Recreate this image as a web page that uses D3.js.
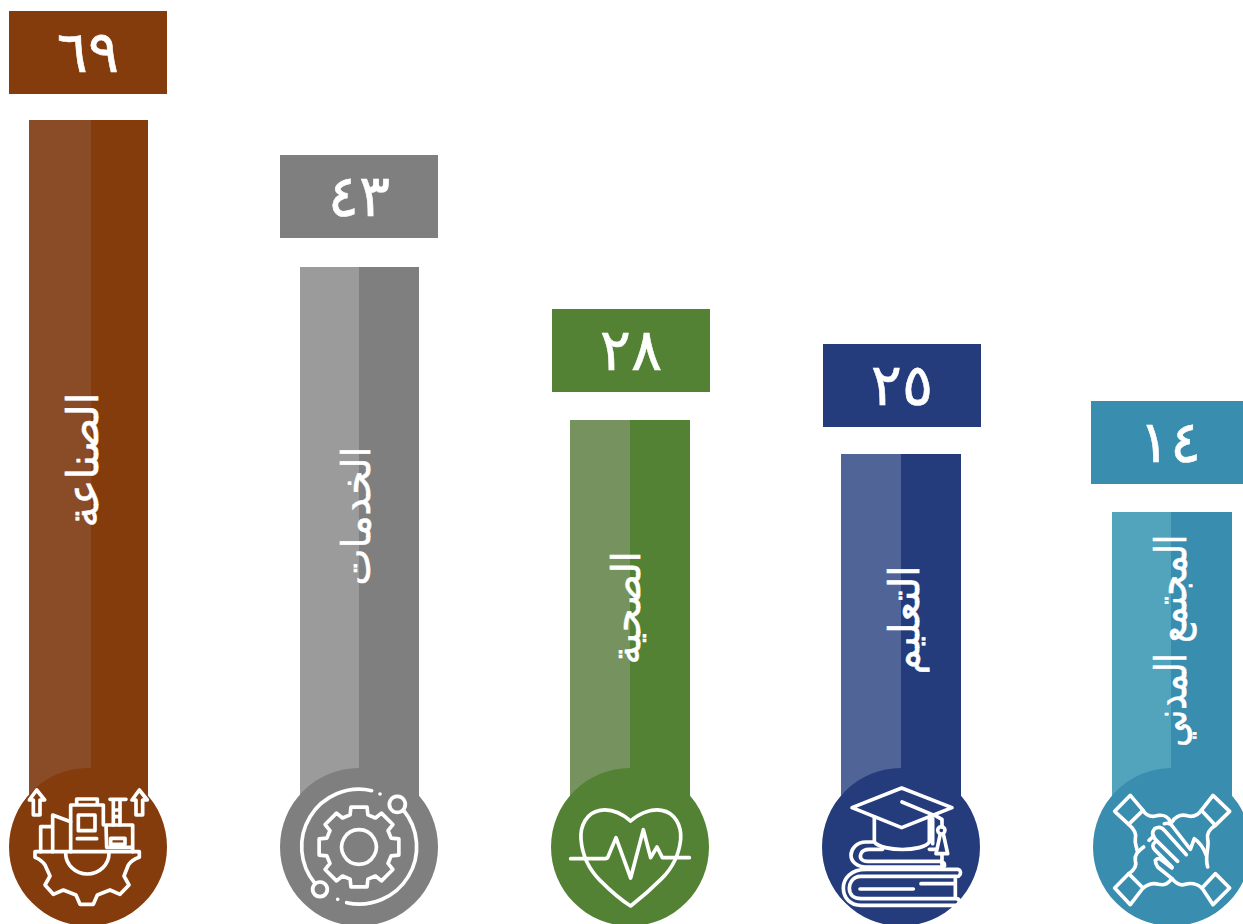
<!DOCTYPE html>
<html>
<head>
<meta charset="utf-8">
<script src="https://cdn.jsdelivr.net/npm/d3@7"></script>
<style>
  html, body { margin: 0; padding: 0; background: #fff; overflow: hidden; }
  text { font-family: "DejaVu Sans", "Noto Sans", sans-serif; fill: #fff; stroke: #fff; }
</style>
</head>
<body>
<div id="chart"></div>
<script>
var categories = ["الصناعة", "الخدمات", "الصحية", "التعليم", "المجتمع المدني"];
var values = [69, 43, 28, 25, 14];
var colors = ["#843c0c", "#7f7f7f", "#548235", "#243c7c", "#398dae"];
var lightColors = ["#8a4b27", "#9b9b9b", "#76935f", "#506498", "#52a3bc"];

var width = 1243, height = 924;
var baseY = 847, radius = 79, barW = 119, boxW = 158, boxH = 83;

// the bars in the picture are not proportional, so the scales go through each value
var sorted = values.slice().sort(d3.ascending);
var y = d3.scaleLinear().domain(sorted).range([512, 454, 420, 267, 120]);
var boxY = d3.scaleLinear().domain(sorted).range([401, 344, 309, 155, 11]);
var x = d3.scalePoint().domain(categories).range([88, 1172]);

// small hand nudges per column
var barShift = d3.scaleOrdinal(categories, [0, 0, 1, 1, 1]);
var boxShift = d3.scaleOrdinal(categories, [0, 0, 1, 1, -2]);
var splitShift = d3.scaleOrdinal(categories, [3, 0, 0, 0, -1]);
var labelMid = d3.scaleOrdinal(categories, [460, 516, 608, 620, 641]);
var labelX = d3.scaleOrdinal(categories, [-6, -3, -4, 3, -1]);
var labelSize = d3.scaleOrdinal(categories, [44, 40, 40, 42, 43]);
var labelLength = d3.scaleOrdinal(categories, [135, 139, 113, 109, 212]);

var arabic = d3.formatLocale({
  decimal: ".", thousands: ",", grouping: [3], currency: ["", ""],
  numerals: ["٠", "١", "٢", "٣", "٤", "٥", "٦", "٧", "٨", "٩"]
}).format("d");

var gearTeeth = d3.range(8).map(function(i) {
  var a = i * Math.PI / 4 - Math.PI / 2, s = 0.27, t = 0.2;
  var p = function(r, b) { return [(1077 + r * Math.cos(b)).toFixed(1), (261 + r * Math.sin(b)).toFixed(1)].join(" "); };
  return (i ? "L" : "M") + p(100, a - s) + "L" + p(122, a - t) + "L" + p(122, a + t) + "L" + p(100, a + s);
}).join("") + "Z";

var icons = [
  [264, 261, [
    "M110 90L88 120H100V165H120V120H134Z",
    "M418 90L396 120H408V165H428V120H442Z",
    "M105 275H418V292Q395 300 385 315L372 348L387 375L360 403L330 390L292 405L280 433H240L228 405L190 390L160 403L135 375L150 348L135 315Q125 300 105 292Z",
    "M197 280A65 62 0 0 0 327 280",
    "M122 275V200H158M158 275V165L212 185",
    "M212 275V135H310V195M230 135V117H292V135",
    "M235 165H285V212H235ZM232 236H290",
    "M318 195H398V262H320ZM398 262V275M332 235H375V253H332Z",
    "M330 118H378M340 118V195M360 118V195M340 150H360M340 170H360"
  ]],
  [1077, 261, [
    gearTeeth,
    "M1077 209A52 52 0 1 1 1076.9 209Z",
    "M1115 92A172 172 0 0 0 945 370",
    "M1040 428A172 172 0 0 0 1210 150",
    "M1192 109A24 24 0 1 1 1191.9 109Z",
    "M960 366A22 22 0 1 1 959.9 366Z",
    "M1140 102h.1M1013 418h.1"
  ]],
  [255, 255, [
    "M257 177C228 152 195 140 165 145C125 152 105 190 108 232C112 280 130 320 165 355C195 385 230 415 257 432C285 410 320 380 350 350C380 320 402 280 407 232C410 190 390 152 350 145C320 140 285 152 257 177Z",
    "M77 290H180Q188 290 190 282L213 227L257 348L295 203L317 287L336 255L352 287H433"
  ]],
  [255, 255, [
    "M108 137L257 78L408 137L257 197Z",
    "M258 120L362 163L378 172V195",
    "M376 194A11 11 0 1 1 375.9 194Z",
    "M372 220L360 275H395L383 220",
    "M175 165V240C200 270 320 270 340 240V165M350 170V245",
    "M170 240H150C120 240 105 262 105 280C105 300 125 315 150 315H378Q388 315 385 305Q380 298 370 298H155C135 298 130 287 135 275Q140 262 160 262H200M340 262H360M378 278V315",
    "M150 322H425Q437 325 432 338Q428 345 420 343H135C105 343 100 370 100 378C100 400 115 410 135 410H420Q430 410 430 420Q428 430 420 430H135C105 430 82 410 82 378C82 350 105 322 150 322M418 345V410",
    "M315 365H416M132 381H292"
  ]],
  [255, 255, [
    "M130 100L168 145L125 187L83 148Z",
    "M378 100L428 148L385 190L343 145Z",
    "M130 428L83 378L125 335L168 378Z",
    "M378 428L428 378L385 335L345 378Z",
    "M168 145C180 165 200 165 215 160C230 158 245 165 250 180",
    "M125 187C140 200 150 215 145 230C142 245 150 255 150 265",
    "M343 145C330 165 310 165 295 160C280 158 265 165 255 180",
    "M385 190C370 200 358 215 362 232C368 255 352 280 362 315",
    "M125 335C140 325 150 310 145 295C142 280 150 270 170 255",
    "M168 378C185 365 200 362 215 367C235 372 245 362 255 350C265 362 280 372 295 367C310 362 330 365 345 378",
    "M205 232Q190 215 203 200Q220 190 232 205L298 278",
    "M232 185Q250 180 258 195L310 262L322 230Q345 245 358 280",
    "M205 232L272 298M205 240Q190 250 205 265L255 315",
    "M205 295Q215 285 225 295L255 318M205 295Q205 305 212 315L255 350",
    "M186 235L200 222"
  ]]
];

var svg = d3.select("#chart").append("svg")
  .attr("width", width)
  .attr("height", height)
  .style("display", "block");

var col = svg.selectAll("g.col").data(categories)
  .enter()
  .append("g")
  .attr("class", "col")
  .each(function(d, i) {
    var g = d3.select(this);
    var cx = x(d), top = y(values[i]);
    var left = cx - 59 - barShift(d);

    g.append("rect")
      .attr("x", left)
      .attr("y", top)
      .attr("width", barW + barShift(d))
      .attr("height", baseY - top)
      .style("fill", colors[i]);

    g.append("rect")
      .attr("x", left)
      .attr("y", top)
      .attr("width", cx + splitShift(d) - left)
      .attr("height", baseY - top)
      .style("fill", lightColors[i]);

    g.append("circle")
      .attr("cx", cx)
      .attr("cy", baseY)
      .attr("r", radius)
      .style("fill", colors[i]);

    g.append("rect")
      .attr("x", cx - boxW / 2 + boxShift(d))
      .attr("y", boxY(values[i]))
      .attr("width", boxW)
      .attr("height", boxH)
      .style("fill", colors[i]);

    g.append("text")
      .attr("x", cx + boxShift(d))
      .attr("y", boxY(values[i]) + 61)
      .attr("text-anchor", "middle")
      .style("font-size", "58px")
      .style("stroke-width", 0.6)
      .text(arabic(values[i]));

    g.append("text")
      .attr("transform", "translate(" + (cx + labelX(d)) + "," + labelMid(d) + ")rotate(-90)")
      .attr("text-anchor", "middle")
      .attr("dominant-baseline", "central")
      .attr("direction", "rtl")
      .attr("textLength", labelLength(d))
      .attr("lengthAdjust", "spacingAndGlyphs")
      .style("font-size", labelSize(d) + "px")
      .style("stroke-width", 0.6)
      .text(d);

    var ic = icons[i];
    g.append("g")
      .attr("transform", "translate(" + cx + "," + baseY + ")scale(" + (1 / 3) + ")translate(" + (-ic[0]) + "," + (-ic[1]) + ")")
      .selectAll("path").data(ic[2])
      .enter()
      .append("path")
      .attr("d", function(p) { return p; })
      .style("fill", "none")
      .style("stroke", "#fff")
      .style("stroke-width", 11)
      .style("stroke-linecap", "round")
      .style("stroke-linejoin", "round");
  });
</script>
</body>
</html>
